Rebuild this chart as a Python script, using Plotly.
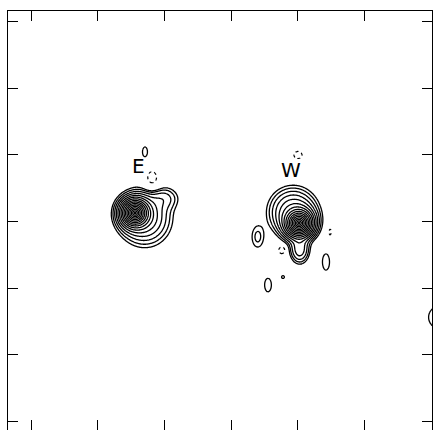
import numpy as np
import plotly.graph_objects as go

# ---- source model: components of the brightness map (map units, 1 unit = 1 tick) ----
comp_name = ["E core", "E halo", "E lobe", "W core", "W halo", "W tail",
             "E knot", "W west knot", "W south-east knot", "W south knot", "W speck", "edge knot",
             "E neg", "W north neg", "W east neg", "W south-west neg"]
comp_x   = [1.560, 1.710, 2.010, 4.020, 3.930, 4.030,
            1.710, 3.400, 4.425, 3.555, 3.780, 6.135,
            1.815, 4.005, 4.485, 3.765]
comp_y   = [3.128, 3.053, 3.353, 2.977, 3.150, 2.571,
            4.045, 2.767, 2.391, 2.045, 2.165, 1.560,
            3.624, 4.000, 2.842, 2.571]
comp_amp = [550.0, 6.0, 2.0, 550.0, 7.0, 4.2,
            1.3, 1.68, 1.3, 1.3, 1.2, 1.3,
            -1.6, -1.5, -1.3, -2.2]
comp_sx  = [0.052, 0.220, 0.140, 0.052, 0.200, 0.088,
            0.052, 0.081, 0.073, 0.070, 0.035, 0.236,
            0.093, 0.067, 0.030, 0.040]
comp_sy  = [0.052, 0.235, 0.110, 0.052, 0.200, 0.125,
            0.105, 0.147, 0.167, 0.140, 0.035, 0.236,
            0.140, 0.059, 0.080, 0.045]
comp_profile = ["exp", "gauss", "gauss", "exp", "gauss", "gauss",
                "gauss", "gauss", "gauss", "gauss", "gauss", "gauss",
                "gauss", "gauss", "gauss", "gauss"]

# contour levels: lowest positive level and the ratio between successive levels
level_base = 1.0
level_ratio = 1.5
n_levels = 16
negative_level = -1.0

# source labels
label_text = ["E", "W"]
label_x = [1.605, 3.900]
label_y = [3.835, 3.774]

# axis frame
tick_vals = [0, 1, 2, 3, 4, 5, 6]
x_range = [-0.345, 6.015]
y_range = [-0.135, 6.165]

# ---- evaluate the map on a grid ----
step = 0.012
gx = np.arange(-0.45, 6.35, step)
gy = np.arange(-0.30, 6.35, step)
X, Y = np.meshgrid(gx, gy)
Z = np.zeros_like(X)
for cx, cy, a, sx, sy, prof in zip(comp_x, comp_y, comp_amp, comp_sx, comp_sy, comp_profile):
    if prof == "exp":
        r = np.sqrt(((X - cx) / sx) ** 2 + ((Y - cy) / sy) ** 2)
        Z += a * np.exp(-r)
    else:
        Z += a * np.exp(-0.5 * (((X - cx) / sx) ** 2 + ((Y - cy) / sy) ** 2))

Zlog = np.log10(np.clip(Z, 1e-4, None)).astype(np.float32)
Zlin = Z.astype(np.float32)

dlog = np.log10(level_ratio)
fig = go.Figure()

# positive contours (logarithmic spacing)
fig.add_trace(go.Contour(
    x=gx.astype(np.float32), y=gy.astype(np.float32), z=Zlog,
    contours=dict(start=np.log10(level_base), end=np.log10(level_base) + dlog * (n_levels - 0.5),
                  size=dlog, coloring="none"),
    line=dict(color="black", width=1.3),
    showscale=False, hoverinfo="skip",
))

# negative contour (dotted)
fig.add_trace(go.Contour(
    x=gx.astype(np.float32), y=gy.astype(np.float32), z=Zlin,
    contours=dict(start=negative_level, end=negative_level + 0.5, size=1.0, coloring="none"),
    line=dict(color="black", width=1.2, dash="dot"),
    showscale=False, hoverinfo="skip",
))

# carrier for the lower tick axis
fig.add_trace(go.Scatter(x=[0], y=[0], xaxis="x2", mode="markers",
                         marker=dict(opacity=0), hoverinfo="skip", showlegend=False))

for t, lx, ly in zip(label_text, label_x, label_y):
    fig.add_annotation(x=lx, y=ly, text=t, showarrow=False,
                       font=dict(family="DejaVu Sans", size=20, color="black"))

axis_common = dict(tickvals=tick_vals, showticklabels=False, ticks="inside", ticklen=10,
                   tickwidth=1.2, tickcolor="black", showgrid=False, zeroline=False)

fig.update_layout(
    width=433, height=430,
    margin=dict(l=8, r=1, t=11, b=0),
    paper_bgcolor="white", plot_bgcolor="white",
    showlegend=False,
    xaxis=dict(range=x_range, side="top", showline=True, linecolor="black", linewidth=1.3,
               mirror=False, **axis_common),
    xaxis2=dict(range=x_range, overlaying="x", matches="x", side="bottom", showline=False,
                **axis_common),
    yaxis=dict(range=y_range, showline=True, linecolor="black", linewidth=1.3,
               mirror="ticks", **axis_common),
)

fig.write_html("out.html")
